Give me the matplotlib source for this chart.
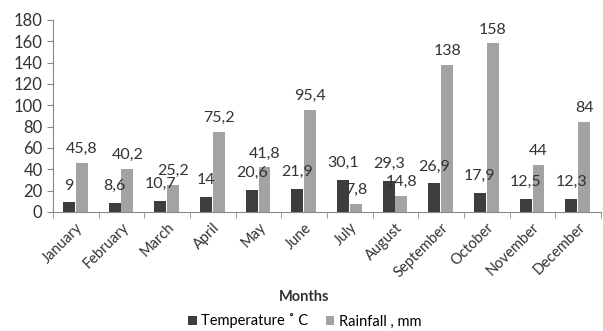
import matplotlib.pyplot as plt
import numpy as np

months = ["January", "February", "March", "April", "May", "June", "July",
          "August", "September", "October", "November", "December"]
temperature = [9, 8.6, 10.7, 14, 20.6, 21.9, 30.1, 29.3, 26.9, 17.9, 12.5, 12.3]
rainfall = [45.8, 40.2, 25.2, 75.2, 41.8, 95.4, 7.8, 14.8, 138, 158, 44, 84]

plt.rcParams['font.family'] = ['Lato', 'DejaVu Sans']

fig = plt.figure(figsize=(6.03, 3.31), dpi=100)
ax = fig.add_axes([53 / 603, 1 - 212 / 331, 548 / 603, 192 / 331])

x = np.arange(len(months))
w = 0.26
b1 = ax.bar(x - 0.15, temperature, w, color="#3d3d3d", label="Temperature ˚ C")
b2 = ax.bar(x + 0.13, rainfall, w, color="#a3a3a3", label="Rainfall , mm")


def fmt(v):
    return f"{v:g}".replace(".", ",")


for xi, v in zip(x - 0.15, temperature):
    ax.annotate(fmt(v), (xi, v), xytext=(0, 7), textcoords="offset points",
                ha="center", va="bottom", fontsize=11.5, color="#333333")
for xi, v in zip(x + 0.13, rainfall):
    ax.annotate(fmt(v), (xi, v), xytext=(0, 5), textcoords="offset points",
                ha="center", va="bottom", fontsize=11.5, color="#333333")

ax.set_xlim(-0.5, len(months) - 0.5)
ax.set_ylim(0, 180)
ax.set_yticks(range(0, 181, 20))
ax.set_xticks(x)
ax.set_xticklabels(months, rotation=45, ha="right", rotation_mode="anchor",
                   fontsize=10.5, color="#333333")
ax.set_xticks(np.arange(-0.5, len(months)), minor=True)
ax.tick_params(axis="x", which="major", length=0, pad=6)
ax.tick_params(axis="x", which="minor", length=4, color="#888888")
ax.tick_params(axis="y", length=4, color="#888888", labelsize=12,
               labelcolor="#333333")

for s in ["top", "right"]:
    ax.spines[s].set_visible(False)
for s in ["left", "bottom"]:
    ax.spines[s].set_color("#888888")

fig.text(0.505, 1 - 297 / 331, "Months", ha="center", va="center",
         fontsize=10.5, fontweight="bold", color="#333333")
fig.legend(handles=[b1, b2], loc="center", bbox_to_anchor=(0.505, 1 - 321 / 331),
           ncol=2, frameon=False, fontsize=10.5, handlelength=0.6,
           handleheight=0.6, handletextpad=0.3, columnspacing=1.2)

fig.savefig("out.png", dpi=100)
